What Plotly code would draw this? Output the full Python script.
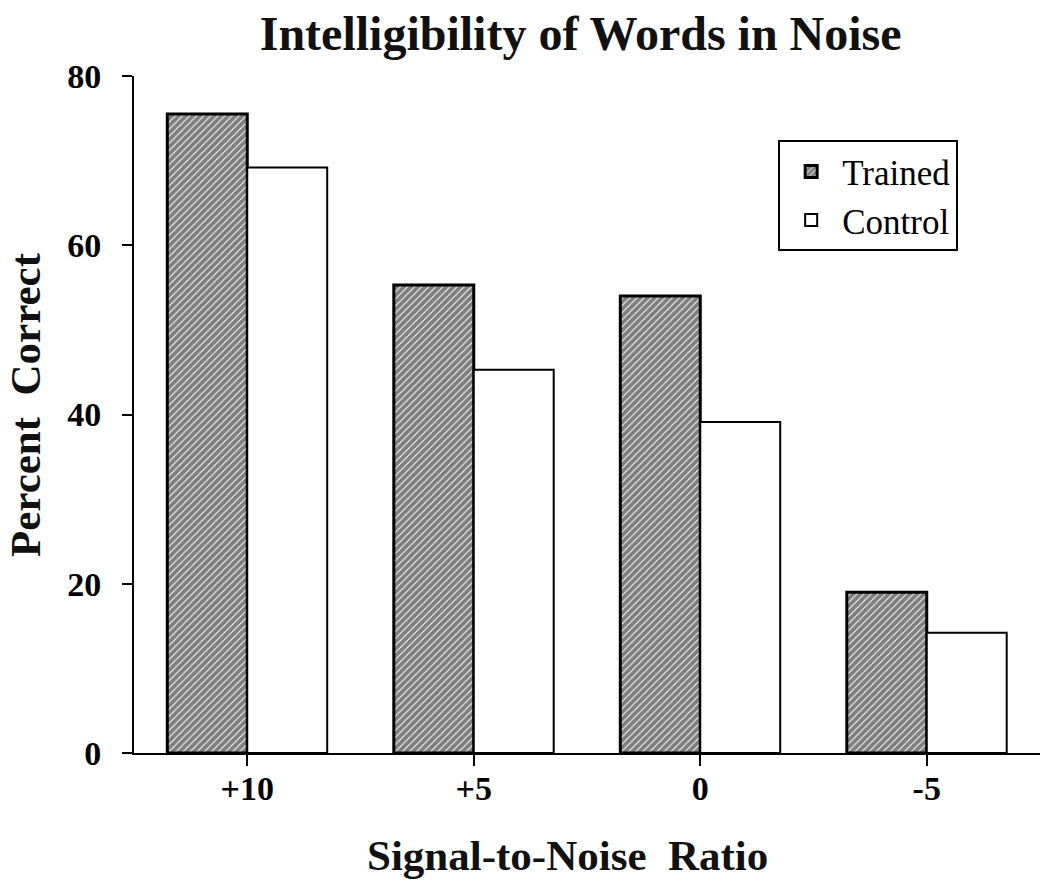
import plotly.graph_objects as go

categories = ["+10", "+5", "0", "-5"]
trained = [75.5, 55.3, 54.0, 19.0]
control = [69.2, 45.3, 39.1, 14.2]
y_ticks = [0, 20, 40, 60, 80]

font_family = "Liberation Serif, Times New Roman, serif"

fig = go.Figure()
fig.add_trace(go.Bar(
    x=categories, y=trained, name="Trained",
    marker=dict(color="white", line=dict(color="black", width=3),
                pattern=dict(shape="/", fgcolor="#000000", bgcolor="white",
                             size=5, solidity=0.8)),
))
fig.add_trace(go.Bar(
    x=categories, y=control, name="Control",
    marker=dict(color="white", line=dict(color="black", width=2)),
))

fig.update_layout(
    width=1050, height=882,
    paper_bgcolor="white", plot_bgcolor="white",
    barmode="group", bargap=0.294, bargroupgap=0,
    margin=dict(l=134, r=10, t=76, b=129),
    font=dict(family=font_family, color="black", size=24),
    title=dict(text="<b>Intelligibility of Words in Noise</b>",
               xref="paper", x=0.493, xanchor="center",
               yref="container", y=0.9626, yanchor="middle",
               font=dict(size=48, family=font_family, color="#111111")),
    showlegend=True,
    legend=dict(x=0.711, y=0.905, xanchor="left", yanchor="top",
                bordercolor="black", borderwidth=2, bgcolor="white",
                font=dict(size=35, family=font_family, color="black"),
                itemwidth=52, tracegroupgap=0),
    annotations=[
        dict(text="<b>Signal-to-Noise  Ratio</b>", xref="paper", yref="paper",
             x=0.478, y=0, xanchor="center", yanchor="middle", yshift=-102,
             showarrow=False,
             font=dict(size=43, family=font_family, color="#111111")),
        dict(text="<b>Percent  Correct</b>", xref="paper", yref="paper",
             x=0, y=0.514, xanchor="center", yanchor="middle", xshift=-109,
             textangle=-90, showarrow=False,
             font=dict(size=43, family=font_family, color="#111111")),
    ],
)
fig.update_xaxes(
    type="category", range=[-0.5, 3.5],
    tickvals=categories, ticktext=[f"<b>{c}</b>" for c in categories],
    showline=True, linecolor="black", linewidth=2,
    ticks="outside", ticklen=11, tickwidth=2, tickcolor="black",
    ticklabelstandoff=-7,
    tickfont=dict(size=34, family=font_family, color="black"),
    showgrid=False, zeroline=False, automargin=False,
)
fig.update_yaxes(
    range=[0, 80], tickvals=y_ticks, ticktext=[f"<b>{v}</b>" for v in y_ticks],
    showline=True, linecolor="black", linewidth=2,
    ticks="outside", ticklen=10, tickwidth=2, tickcolor="black",
    ticklabelstandoff=14,
    tickfont=dict(size=34, family=font_family, color="black"),
    showgrid=False, zeroline=False, automargin=False,
)

fig.write_html("out.html", config={"displayModeBar": False},
               post_script="document.body.style.margin='0';")
